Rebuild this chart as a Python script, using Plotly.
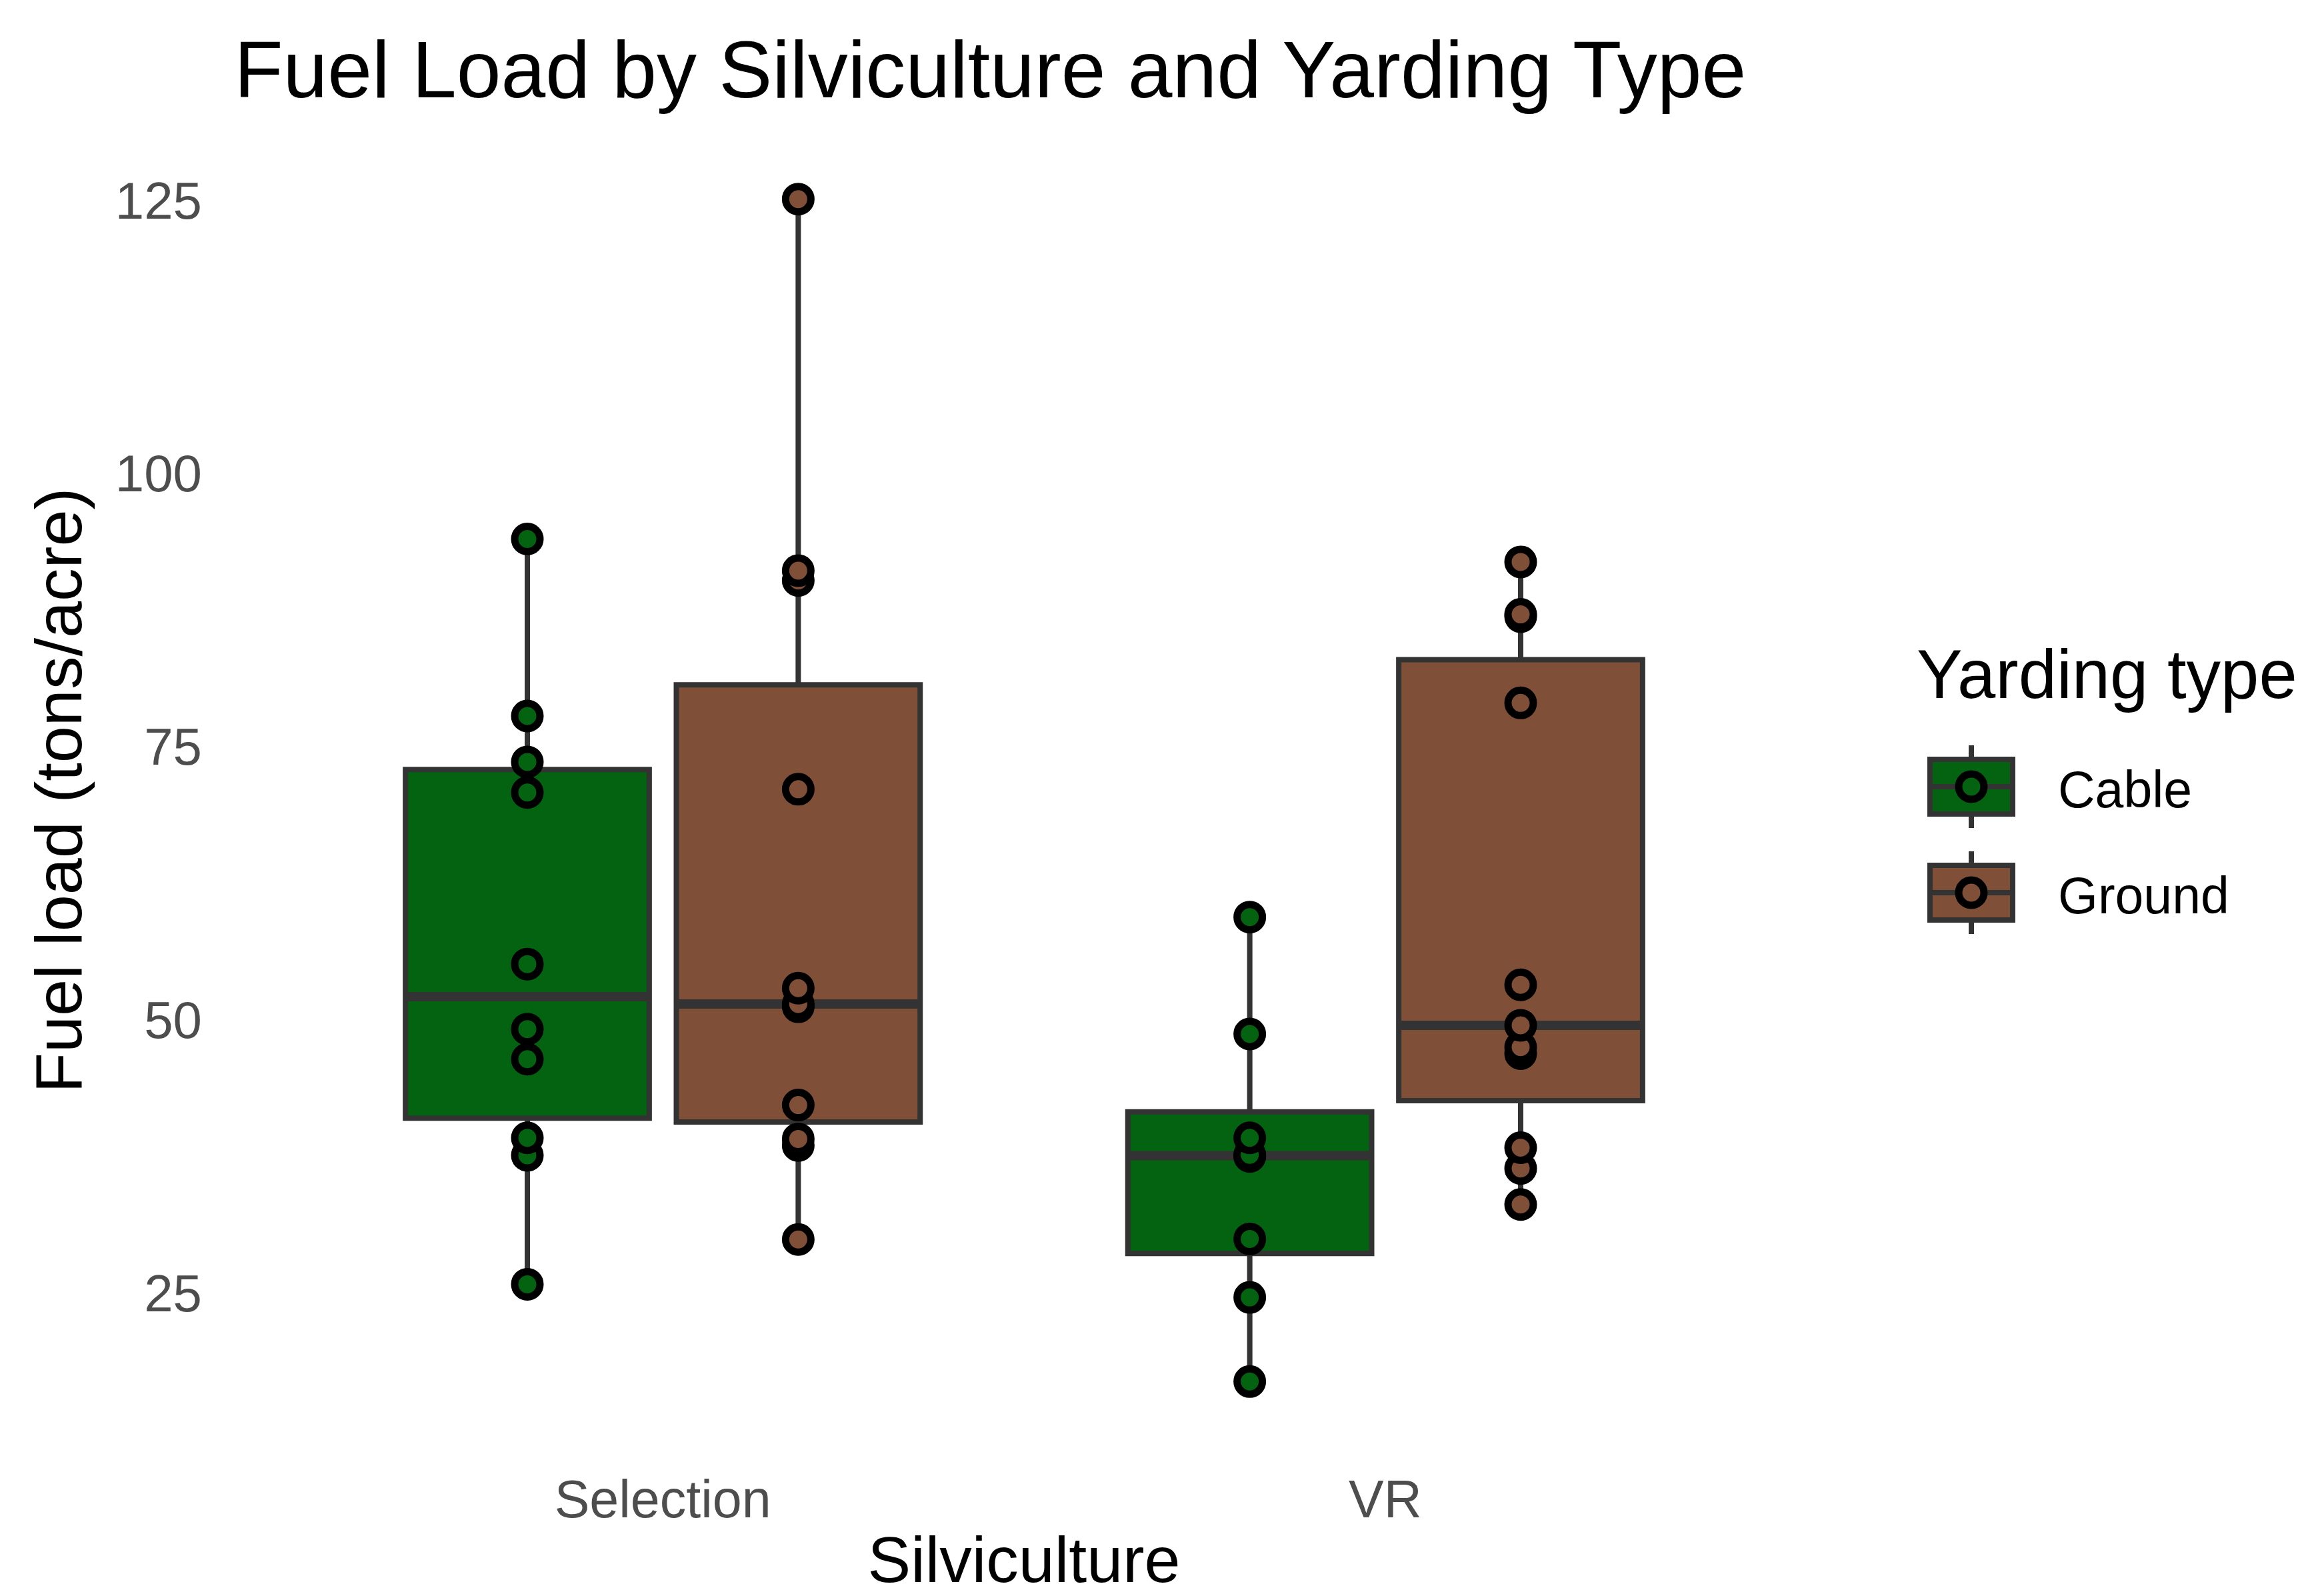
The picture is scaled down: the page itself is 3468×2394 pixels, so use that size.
import numpy as np
import plotly.graph_objects as go

# ---------------- data ----------------
silviculture = ["Selection", "VR"]
yarding_types = ["Cable", "Ground"]

selection_cable = [94.0, 77.8, 73.6, 70.8, 55.1, 49.15, 46.4, 39.2, 37.6, 25.8]
selection_ground = [125.1, 91.1, 90.2, 71.1, 52.9, 51.45, 51.2, 42.2, 39.1, 38.5, 29.9]
vr_cable = [59.4, 48.7, 39.2, 37.65, 37.5, 29.95, 24.6, 16.9]
vr_ground = [91.9, 87.1, 86.9, 79.0, 53.2, 49.5, 47.5, 46.9, 38.3, 36.4, 33.1]

y_ticks = [25, 50, 75, 100, 125]

fill_colors = {"Cable": "#046310", "Ground": "#7F5037"}

groups = {
    "Cable": {"Selection": selection_cable, "VR": vr_cable},
    "Ground": {"Selection": selection_ground, "VR": vr_ground},
}

# ---------------- layout geometry ----------------
W, H = 3468, 2394
ML, MR, MT, MB = 344, 740, 210, 233
PW, PH = W - ML - MR, H - MT - MB


def px_x(px):
    return (px - ML) / PW


def px_y(py):
    return (H - MB - py) / PH


def box_stats(vals):
    v = np.sort(np.asarray(vals, dtype=float))
    q1, med, q3 = np.percentile(v, [25, 50, 75])
    iqr = q3 - q1
    lo = v[v >= q1 - 1.5 * iqr].min()
    hi = v[v <= q3 + 1.5 * iqr].max()
    return q1, med, q3, lo, hi


fig = go.Figure()

# boxes (ggplot-style quartiles)
for yt in yarding_types:
    stats = [box_stats(groups[yt][s]) for s in silviculture]
    fig.add_trace(go.Box(
        name=yt,
        x=silviculture,
        q1=[s[0] for s in stats],
        median=[s[1] for s in stats],
        q3=[s[2] for s in stats],
        lowerfence=[s[3] for s in stats],
        upperfence=[s[4] for s in stats],
        orientation="v",
        offsetgroup=yt,
        fillcolor=fill_colors[yt],
        line=dict(color="#333333", width=8),
        whiskerwidth=0,
        boxpoints=False,
        showlegend=False,
        hoverinfo="skip",
    ))

# thicker median bars (ggplot draws the median with a heavier stroke)
for yt in yarding_types:
    meds = [box_stats(groups[yt][s])[1] for s in silviculture]
    fig.add_trace(go.Box(
        name=yt,
        x=silviculture,
        q1=meds, median=meds, q3=meds, lowerfence=meds, upperfence=meds,
        orientation="v",
        offsetgroup=yt,
        fillcolor="rgba(0,0,0,0)",
        line=dict(color="#333333", width=14),
        whiskerwidth=0,
        boxpoints=False,
        showlegend=False,
        hoverinfo="skip",
    ))

# points
for yt in yarding_types:
    xs, ys = [], []
    for s in silviculture:
        xs += [s] * len(groups[yt][s])
        ys += list(groups[yt][s])
    fig.add_trace(go.Box(
        name=yt,
        x=xs,
        y=ys,
        offsetgroup=yt,
        boxpoints="all",
        jitter=0,
        pointpos=0,
        fillcolor="rgba(0,0,0,0)",
        line=dict(color="rgba(0,0,0,0)", width=0),
        whiskerwidth=0,
        marker=dict(color=fill_colors[yt], size=38, line=dict(color="black", width=11)),
        showlegend=False,
    ))

all_vals = np.concatenate([np.asarray(groups[yt][s]) for yt in yarding_types for s in silviculture])
lo, hi = all_vals.min(), all_vals.max()
pad = 0.05 * (hi - lo)

FONT = "Liberation Sans, Arial, Helvetica, sans-serif"

# ---------------- custom legend (ggplot style keys) ----------------
shapes = []
annotations = []
key_x0, key_x1 = 2895, 3019
key_cx = (key_x0 + key_x1) / 2
key_centers = {"Cable": 1180, "Ground": 1339}
for yt in yarding_types:
    cy = key_centers[yt]
    shapes.append(dict(type="line", xref="paper", yref="paper",
                       x0=px_x(key_cx), x1=px_x(key_cx), y0=px_y(cy - 62), y1=px_y(cy + 62),
                       line=dict(color="#333333", width=8)))
    shapes.append(dict(type="rect", xref="paper", yref="paper",
                       x0=px_x(key_x0), x1=px_x(key_x1), y0=px_y(cy - 41), y1=px_y(cy + 41),
                       fillcolor=fill_colors[yt], line=dict(color="#333333", width=8)))
    shapes.append(dict(type="line", xref="paper", yref="paper",
                       x0=px_x(key_x0), x1=px_x(key_x1), y0=px_y(cy), y1=px_y(cy),
                       line=dict(color="#333333", width=8)))
    r = 19
    shapes.append(dict(type="circle", xref="paper", yref="paper",
                       x0=px_x(key_cx - r), x1=px_x(key_cx + r), y0=px_y(cy - r), y1=px_y(cy + r),
                       fillcolor=fill_colors[yt], line=dict(color="black", width=11)))
    annotations.append(dict(text=yt, xref="paper", yref="paper",
                            x=px_x(3085), y=px_y(cy + 4), xanchor="left", yanchor="middle",
                            showarrow=False, font=dict(family=FONT, size=77, color="black")))

annotations.append(dict(text="Yarding type", xref="paper", yref="paper",
                        x=px_x(2873), y=px_y(1012), xanchor="left", yanchor="middle",
                        showarrow=False, font=dict(family=FONT, size=103, color="black")))

fig.update_layout(
    template="none",
    width=W, height=H,
    margin=dict(l=ML, r=MR, t=MT, b=MB, autoexpand=False),
    paper_bgcolor="white",
    plot_bgcolor="white",
    boxmode="group",
    boxgap=0.25,
    boxgroupgap=0.10,
    showlegend=False,
    font=dict(family=FONT, color="black"),
    title=dict(text="Fuel Load by Silviculture and Yarding Type",
               x=0.003, xref="paper", xanchor="left",
               y=1 - 104 / H, yref="container", yanchor="middle",
               font=dict(family=FONT, size=120, color="black")),
    xaxis=dict(type="category", categoryorder="array", categoryarray=silviculture,
               range=[-0.6, 1.6], showgrid=False, zeroline=False, showline=False,
               ticks="", automargin=False,
               tickfont=dict(family=FONT, size=79, color="#4D4D4D"),
               ticklabelstandoff=35,
               title=dict(text="Silviculture", font=dict(family=FONT, size=97, color="black"),
                          standoff=53)),
    yaxis=dict(range=[lo - pad, hi + pad], tickvals=y_ticks,
               showgrid=False, zeroline=False, showline=False, ticks="", automargin=False,
               tickfont=dict(family=FONT, size=78, color="#4D4D4D"),
               ticklabelstandoff=40,
               title=dict(text="Fuel load (tons/acre)", font=dict(family=FONT, size=99, color="black"),
                          standoff=17)),
    shapes=shapes,
    annotations=annotations,
)

fig.write_html(
    "out.html",
    config={"displayModeBar": False},
    post_script="document.body.style.margin='0';document.body.style.padding='0';",
)
